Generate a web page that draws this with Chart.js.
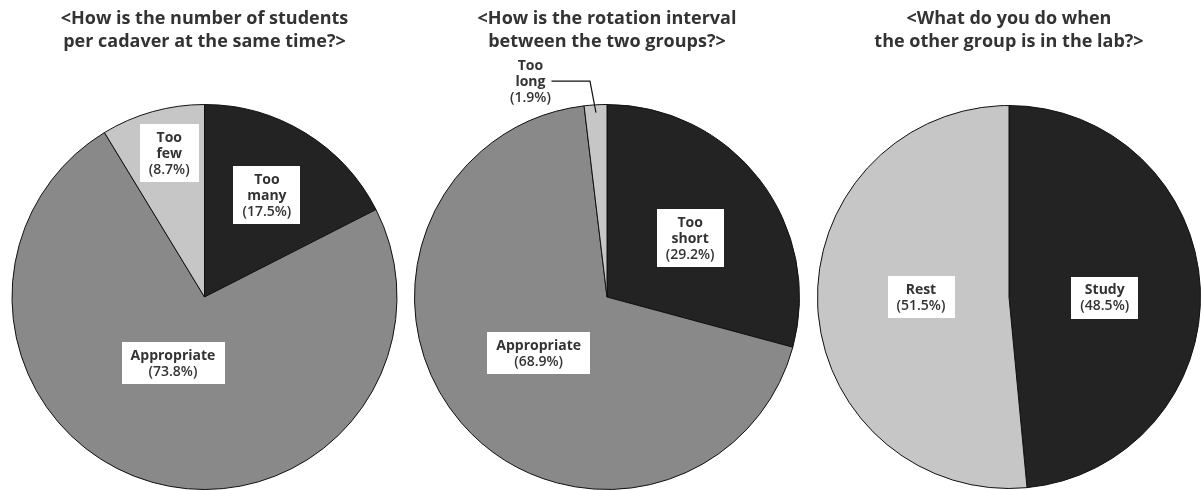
<!DOCTYPE html>
<html>
<head>
<meta charset="utf-8">
<script src="https://cdn.jsdelivr.net/npm/chart.js@4"></script>
<style>
  body { margin: 0; background: #fff; width: 1201px; height: 490px; overflow: hidden; position: relative; }
  .box { position: absolute; top: 0; height: 490px; }
</style>
</head>
<body>
<div class="box" style="left:11px;width:387px"><canvas id="pie1"></canvas></div>
<div class="box" style="left:411px;width:392px"><canvas id="pie2"></canvas></div>
<div class="box" style="left:817px;width:384px"><canvas id="pie3"></canvas></div>
<script>
// survey answers, in %
const cadaverTitle = ['<How is the number of students', 'per cadaver at the same time?>'];
const cadaverLabels = ['Too many', 'Appropriate', 'Too few'];
const cadaverValues = [17.5, 73.8, 8.7];

const rotationTitle = ['<How is the rotation interval', 'between the two groups?>'];
const rotationLabels = ['Too short', 'Appropriate', 'Too long'];
const rotationValues = [29.2, 68.9, 1.9];

const activityTitle = ['<What do you do when', 'the other group is in the lab?>'];
const activityLabels = ['Study', 'Rest'];
const activityValues = [48.5, 51.5];

const DARK = '#232323', MID = '#898989', LIGHT = '#c6c6c6';
const FONT = "'Open Sans', 'Noto Sans', sans-serif";

// white boxed labels inside slices (or outside with a leader line)
const boxLabels = {
    id: 'boxLabels',
    afterDatasetsDraw(chart, args, opts) {
        const ctx = chart.ctx;
        const arcs = chart.getDatasetMeta(0).data;
        const names = chart.data.labels;
        const vals = chart.data.datasets[0].data;
        arcs.forEach(function (arc, i) {
            const p = arc.getProps(['x', 'y', 'startAngle', 'endAngle', 'outerRadius'], true);
            const pl = opts.place[i];
            const mid = (p.startAngle + p.endAngle) / 2;
            const a = mid + pl.turn * Math.PI / 180;
            const x = p.x + Math.cos(a) * p.outerRadius * pl.frac;
            const y = p.y + Math.sin(a) * p.outerRadius * pl.frac;
            const lines = names[i].split(' ');
            lines.push('(' + vals[i].toFixed(1) + '%)');
            const lh = 16;
            ctx.save();
            let w = 0;
            lines.forEach(function (t, j) {
                ctx.font = (j == lines.length - 1 ? '600 ' : 'bold ') + '14px ' + FONT;
                w = Math.max(w, ctx.measureText(t).width);
            });
            const h = lines.length * lh;
            if (!pl.outside) {
                ctx.fillStyle = '#fff';
                ctx.fillRect(Math.round(x - w / 2 - 9), Math.round(y - h / 2 - 5), Math.round(w + 18), Math.round(h + 10));
            } else {
                // leader line from the middle text line to the slice
                const ex = p.x + Math.cos(mid) * p.outerRadius * 0.96;
                const ey = p.y + Math.sin(mid) * p.outerRadius * 0.96;
                ctx.font = 'bold 14px ' + FONT;
                const ly = y - h / 2 + lh * 1.5;
                const lx = x + ctx.measureText(lines[1]).width / 2 + 6;
                ctx.strokeStyle = '#111';
                ctx.lineWidth = 1.2;
                ctx.beginPath();
                ctx.moveTo(lx, ly);
                ctx.lineTo(ex - 6, ly);
                ctx.lineTo(ex, ey);
                ctx.stroke();
            }
            ctx.fillStyle = '#333';
            ctx.textAlign = 'center';
            ctx.textBaseline = 'middle';
            lines.forEach(function (t, j) {
                ctx.font = (j == lines.length - 1 ? '600 ' : 'bold ') + '14px ' + FONT;
                ctx.fillText(t, x, y - h / 2 + lh * (j + 0.5) + 1);
            });
            ctx.restore();
        });
    }
};

function makePie(id, title, labels, values, colors, place) {
    return new Chart(document.getElementById(id), {
        type: 'pie',
        data: {
            labels: labels,
            datasets: [{
                data: values,
                backgroundColor: colors,
                borderColor: '#111',
                borderWidth: 1,
                hoverOffset: 0
            }]
        },
        options: {
            responsive: true,
            maintainAspectRatio: false,
            animation: false,
            events: [],
            layout: { padding: 0 },
            plugins: {
                legend: { display: false },
                tooltip: { enabled: false },
                title: {
                    display: true,
                    text: title,
                    color: '#333',
                    font: { family: FONT, size: 18, weight: 'bold', lineHeight: '23px' },
                    padding: { top: 7.5, bottom: 50.5 }
                },
                boxLabels: { place: place }
            }
        },
        plugins: [boxLabels]
    });
}

makePie('pie1', cadaverTitle, cadaverLabels, cadaverValues, [DARK, MID, LIGHT], [
    { frac: 0.62, turn: 0 },
    { frac: 0.38, turn: 9.7 },
    { frac: 0.77, turn: 1.9 }
]);
makePie('pie2', rotationTitle, rotationLabels, rotationValues, [DARK, MID, LIGHT], [
    { frac: 0.53, turn: 2 },
    { frac: 0.46, turn: 1.4 },
    { frac: 1.19, turn: -16.1, outside: true }
]);
makePie('pie3', activityTitle, activityLabels, activityValues, [DARK, LIGHT], [
    { frac: 0.5, turn: 3 },
    { frac: 0.46, turn: 2.7 }
]);
</script>
</body>
</html>
